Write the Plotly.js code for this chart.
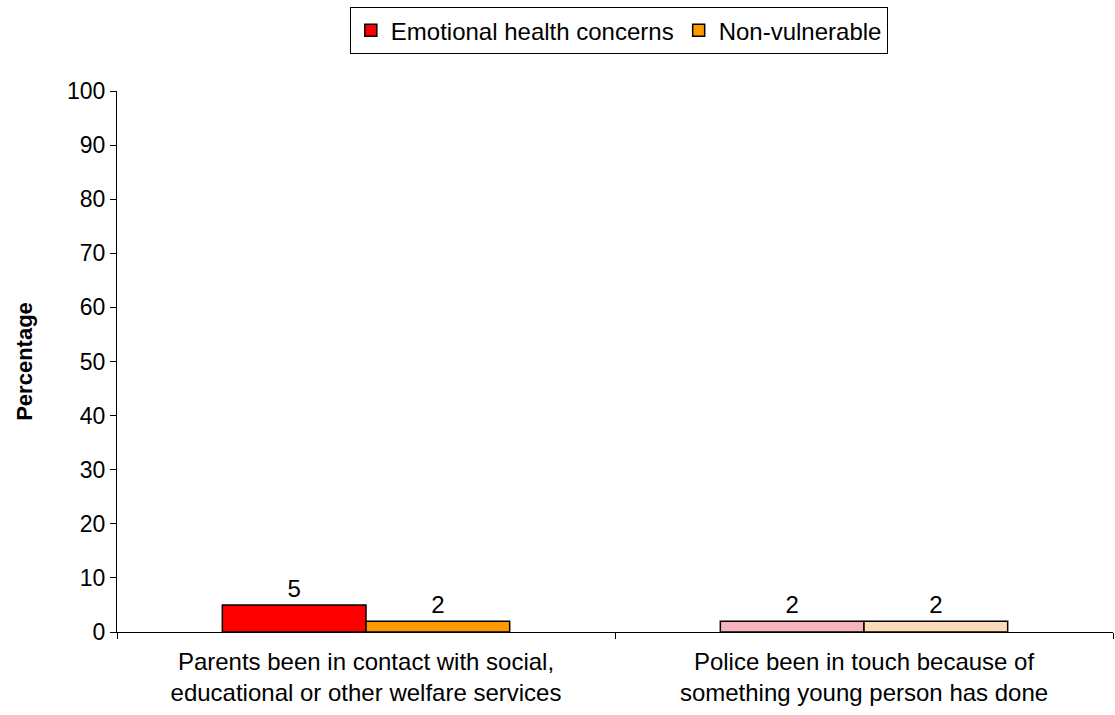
<!DOCTYPE html>
<html>
<head>
<meta charset="utf-8">
<script src="https://cdn.plot.ly/plotly-3.0.1.min.js"></script>
<style>html,body{margin:0;padding:0;background:#fff;}#chart{width:1115px;height:715px;}</style>
</head>
<body>
<div id="chart"></div>
<script>
const categories = [
  "Parents been in contact with social,<br>educational or other welfare services",
  "Police been in touch because of<br>something young person has done"
];
const seriesNames = ["Emotional health concerns", "Non-vulnerable"];
const emotionalValues = [5, 2];
const nonVulnerableValues = [2, 2];
const yTickValues = [0, 10, 20, 30, 40, 50, 60, 70, 80, 90, 100];

const fam = "Liberation Sans, Arial, sans-serif";
const font = {family: fam, size: 23, color: "#000"};

const traces = [
  {
    type: "bar", name: seriesNames[0], x: categories, y: emotionalValues,
    text: emotionalValues.map(String), textposition: "outside",
    textfont: {family: fam, size: 24, color: "#000"},
    marker: {color: ["#ff0000", "#f8b4bd"], line: {color: "#000", width: 1.5}},
    cliponaxis: false
  },
  {
    type: "bar", name: seriesNames[1], x: categories, y: nonVulnerableValues,
    text: nonVulnerableValues.map(String), textposition: "outside",
    textfont: {family: fam, size: 24, color: "#000"},
    marker: {color: ["#ff9900", "#fcdcb8"], line: {color: "#000", width: 1.5}},
    cliponaxis: false
  }
];

const layout = {
  width: 1115, height: 715,
  margin: {l: 117, r: 2, t: 91, b: 83, autoexpand: false},
  paper_bgcolor: "#fff", plot_bgcolor: "#fff",
  font: font,
  barmode: "group", bargap: 0.423, bargroupgap: 0,
  showlegend: true,
  legend: {
    orientation: "h", x: 0.555, xanchor: "center", xref: "container",
    y: 0.99, yanchor: "top", yref: "container",
    bordercolor: "#000", borderwidth: 1, font: {family: fam, size: 24},
    traceorder: "normal", itemwidth: 30, tracegroupgap: 0
  },
  xaxis: {
    type: "category", showline: true, linecolor: "#000", linewidth: 1,
    ticks: "outside", tickson: "boundaries", ticklen: 6, tickcolor: "#000",
    showgrid: false, zeroline: false, tickfont: {family: fam, size: 24},
    ticklabelstandoff: 8,
    automargin: false
  },
  yaxis: {
    range: [0, 100], tickvals: yTickValues, showline: true, linecolor: "#000", linewidth: 1,
    ticks: "outside", ticklen: 6, tickcolor: "#000", showgrid: false, zeroline: false,
    tickfont: {family: fam, size: 23},
    title: {text: "<b>Percentage</b>", font: {family: fam, size: 22}, standoff: 28},
    automargin: false
  }
};

Plotly.newPlot("chart", traces, layout, {displayModeBar: false, staticPlot: true});
</script>
</body>
</html>
